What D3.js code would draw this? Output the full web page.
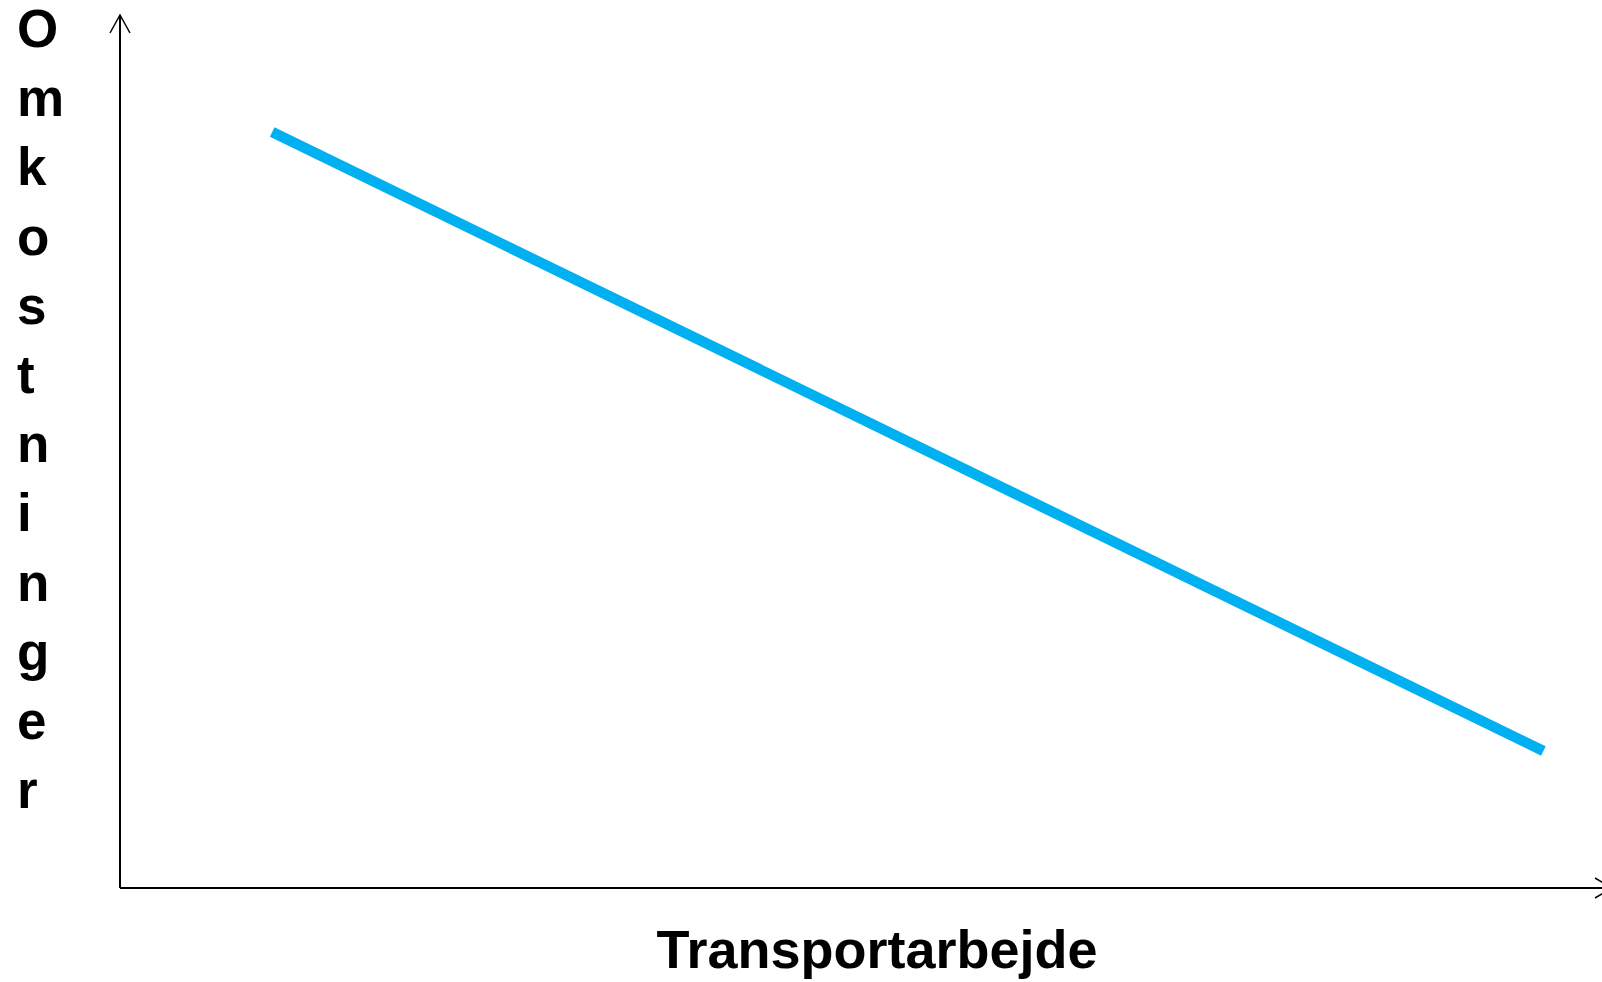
<!DOCTYPE html>
<html>
<head>
<meta charset="utf-8">
<style>
  html, body { margin: 0; padding: 0; background: #fff; }
  svg { display: block; }
  text { font-family: "Liberation Sans", Arial, sans-serif; font-weight: bold; fill: #000; }
</style>
</head>
<body>
<div id="container"></div>
<script src="https://cdn.jsdelivr.net/npm/d3@7"></script>
<script>
// chart data
const xValues = [10.2, 95.4];
const yValues = [86.6, 15.7];
const xTitle = "Transportarbejde";
const yTitle = "Omkostninger";

const width = 1602, height = 982;
const origin = { x: 120, y: 888 };

const svg = d3.select("#container")
  .append("svg")
  .attr("width", width)
  .attr("height", height);

const x = d3.scaleLinear().domain([0, 100]).range([origin.x, 1612]);
const y = d3.scaleLinear().domain([0, 100]).range([origin.y, 15]);

// axes with open arrowheads
const axes = svg.append("g")
  .attr("stroke", "#000")
  .attr("stroke-width", 2)
  .attr("fill", "none");

axes.append("path")
  .attr("d", `M${x(0)},${y(0)}V${y(100)}`);
axes.append("path")
  .attr("stroke-width", 1.5)
  .attr("d", `M${x(0) - 10},${y(100) + 18}L${x(0)},${y(100)}L${x(0) + 10},${y(100) + 18}`);

axes.append("path")
  .attr("d", `M${x(0)},${y(0)}H${x(100)}`);
axes.append("path")
  .attr("stroke-width", 1.5)
  .attr("d", `M${x(100) - 17},${y(0) - 10}L${x(100)},${y(0)}L${x(100) - 17},${y(0) + 10}`);

// the cost line
const pts = xValues.map((v, i) => [v, yValues[i]]);
svg.append("path")
  .datum(pts)
  .attr("fill", "none")
  .attr("stroke", "#00B0F0")
  .attr("stroke-width", 10.5)
  .attr("d", d3.line().x(d => x(d[0])).y(d => y(d[1])));

// x title
svg.append("text")
  .attr("x", 877)
  .attr("y", 968)
  .attr("text-anchor", "middle")
  .attr("font-size", 54)
  .text(xTitle);

// y title, letters stacked
svg.append("g")
  .selectAll("text")
  .data(yTitle.split(""))
  .join("text")
  .attr("x", 17)
  .attr("y", (d, i) => 47 + i * 69.2)
  .attr("font-size", 53)
  .text(d => d);
</script>
</body>
</html>
